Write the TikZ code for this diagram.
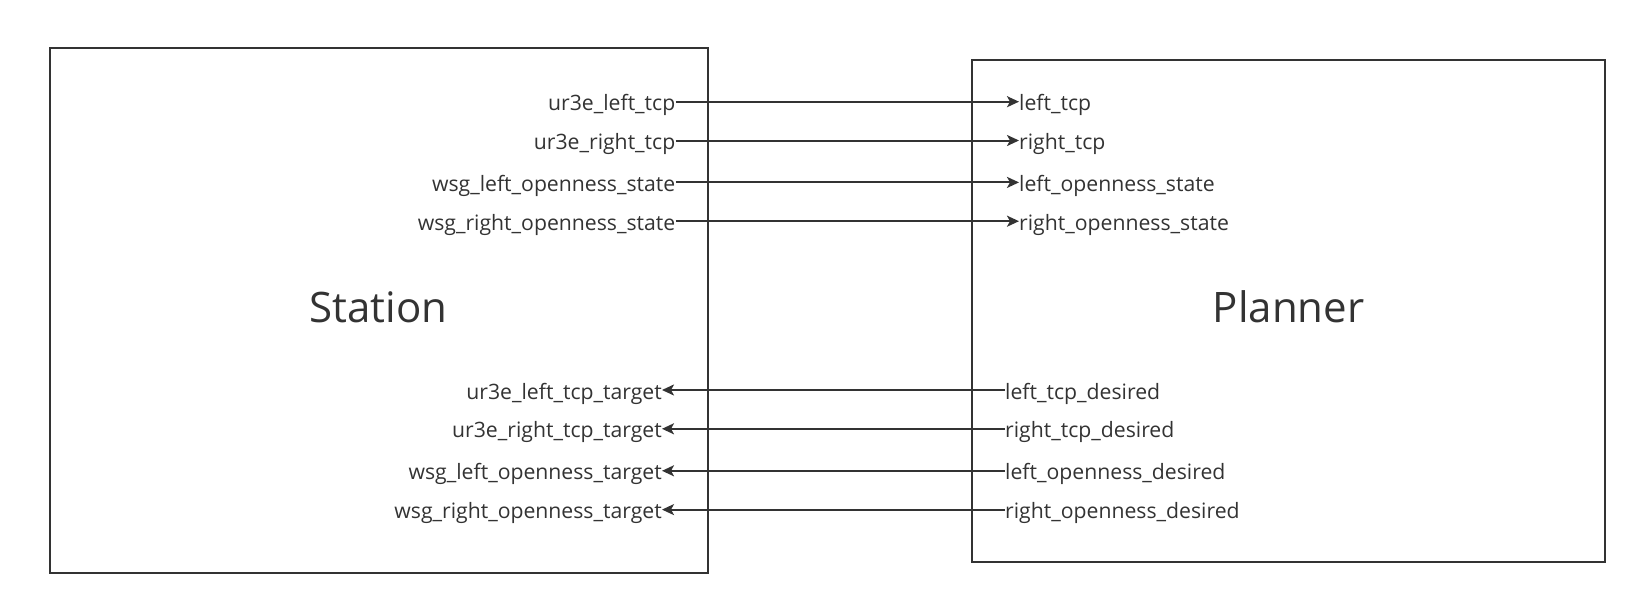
\documentclass[tikz,border=0pt]{standalone}
\usepackage{fontspec}
\setmainfont{Open Sans}
\usetikzlibrary{arrows.meta}
\definecolor{ink}{HTML}{333333}
\tikzset{
  box/.style={draw=ink, line width=2pt},
  port/.style={inner sep=0pt, font=\fontsize{21.2}{25}\selectfont, text=ink},
  title/.style={inner sep=0pt, font=\fontsize{42}{48}\selectfont, text=ink},
  wire/.style={draw=ink, line width=2pt, -{Stealth[length=12pt,width=11pt,inset=3pt]}},
}
\begin{document}
\begin{tikzpicture}[x=1pt,y=-1pt]
\useasboundingbox (0,0) rectangle (1644,608);
\draw[box] (50,47.5) rectangle (708,572.5);
\draw[box] (972,60) rectangle (1605,562);
\node[title] (station) at (378.5,307) {Station};
\node[title] (planner) at (1288.5,307) {Planner};
% outputs of station
\node[port, anchor=base east] (s1) at (675.5,110.8) {ur3e\_left\_tcp};
\node[port, anchor=base east] (s2) at (675.5,149.6) {ur3e\_right\_tcp};
\node[port, anchor=base east] (s3) at (675.5,191.5) {wsg\_left\_openness\_state};
\node[port, anchor=base east] (s4) at (675.5,230.3) {wsg\_right\_openness\_state};
\node[port, anchor=base west] (p1) at (1019,110.8) {left\_tcp};
\node[port, anchor=base west] (p2) at (1019,149.6) {right\_tcp};
\node[port, anchor=base west] (p3) at (1019,191.5) {left\_openness\_state};
\node[port, anchor=base west] (p4) at (1019,230.3) {right\_openness\_state};
% inputs of station
\node[port, anchor=base east] (t1) at (662,399.1) {ur3e\_left\_tcp\_target};
\node[port, anchor=base east] (t2) at (662,437.9) {ur3e\_right\_tcp\_target};
\node[port, anchor=base east] (t3) at (662,479.9) {wsg\_left\_openness\_target};
\node[port, anchor=base east] (t4) at (662,518.7) {wsg\_right\_openness\_target};
\node[port, anchor=base west] (d1) at (1005,399.1) {left\_tcp\_desired};
\node[port, anchor=base west] (d2) at (1005,437.9) {right\_tcp\_desired};
\node[port, anchor=base west] (d3) at (1005,479.9) {left\_openness\_desired};
\node[port, anchor=base west] (d4) at (1005,518.7) {right\_openness\_desired};
\foreach \y/\i in {101.7/1,140.5/2,182.4/3,221.2/4} {
  \draw[wire] (s\i.east |- 0,\y) -- (p\i.west |- 0,\y);
}
\foreach \y/\i in {390/1,428.8/2,470.8/3,509.6/4} {
  \draw[wire] (d\i.west |- 0,\y) -- (t\i.east |- 0,\y);
}
\end{tikzpicture}
\end{document}
